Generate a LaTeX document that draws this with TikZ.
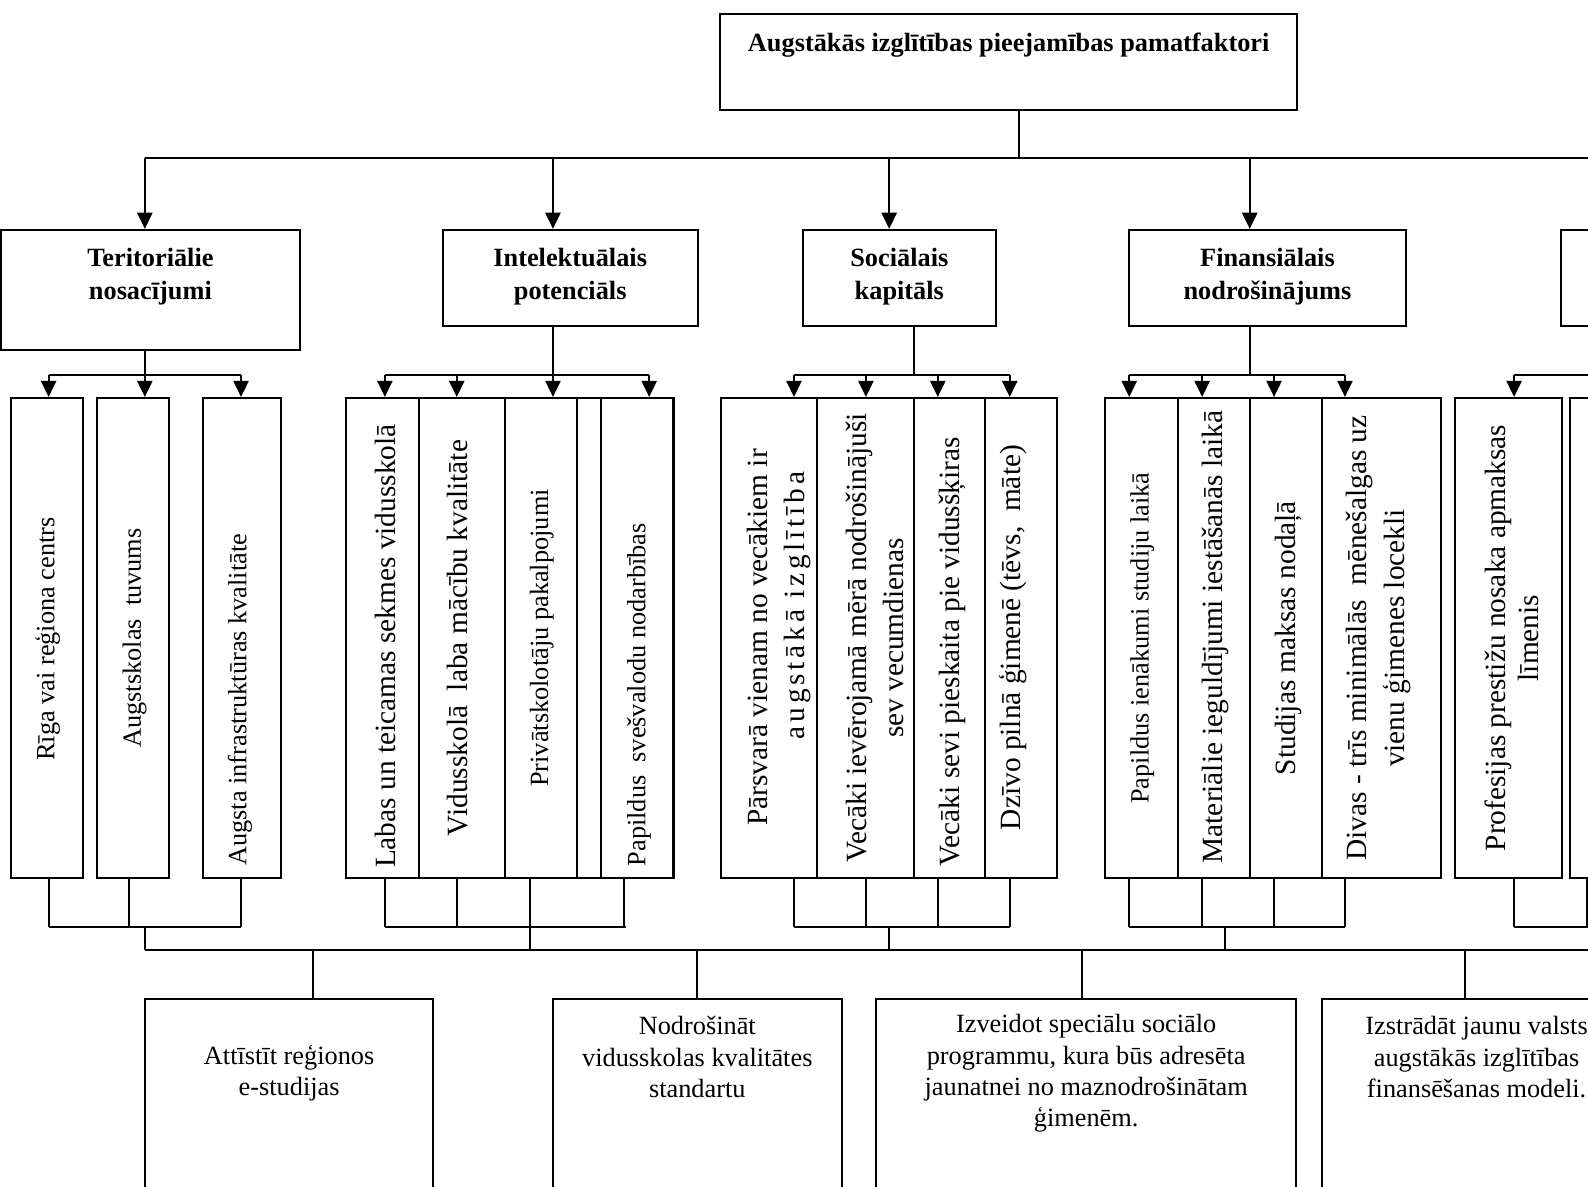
\documentclass[tikz,border=0pt]{standalone}
\usepackage{fontspec}
\setmainfont{Liberation Serif}
\usetikzlibrary{arrows.meta,fit}
\begin{document}
\begin{tikzpicture}[x=0.5pt,y=-0.5pt,
  box/.style={draw,line width=1pt,inner sep=0pt},
  line/.style={line width=1pt},
  arr/.style={line width=1pt,-{Triangle[width=7.5pt,length=8pt]}},
  head/.style={font=\fontsize{13}{16}\selectfont\bfseries,align=center,inner sep=0pt},
  vt/.style={rotate=90,font=\fontsize{13}{18}\selectfont,align=center,inner sep=0pt},
  vtb/.style={rotate=90,font=\fontsize{14.5}{18.5}\selectfont,align=center,inner sep=0pt},
  ht/.style={font=\fontsize{13}{15.5}\selectfont,align=center,inner sep=0pt}]
\useasboundingbox (0,0) rectangle (1568,1172);
\clip (0,0) rectangle (1568,1172);

% ---------- boxes ----------
\node[box, fit={(711,14) (1281,109)}] (top) {};
\node[box, fit={(1,227) (296,346)}] (L1) {};
\node[box, fit={(437,227) (689,322)}] (L2) {};
\node[box, fit={(793,227) (983,322)}] (L3) {};
\node[box, fit={(1115,227) (1388,322)}] (L4) {};
\node[box, fit={(1541,227) (1700,322)}] (L5) {};

\node[box, fit={(11,393) (82,867)}] (t1) {};
\node[box, fit={(96,393) (167,867)}] (t2) {};
\node[box, fit={(200,393) (277,867)}] (t3) {};

\node[box, fit={(342,393) (414,867)}] (i1) {};
\node[box, fit={(414,393) (499,867)}] (i2) {};
\node[box, fit={(499,393) (570,867)}] (i3) {};
\node[box, fit={(570,393) (593,867)}] (i4) {};
\node[box, fit={(593,393) (665,867)}] (i5) {};

\node[box, fit={(712,393) (807,867)}] (s1) {};
\node[box, fit={(807,393) (902,867)}] (s2) {};
\node[box, fit={(902,393) (973,867)}] (s3) {};
\node[box, fit={(973,393) (1044,867)}] (s4) {};

\node[box, fit={(1091,393) (1163,867)}] (f1) {};
\node[box, fit={(1163,393) (1234,867)}] (f2) {};
\node[box, fit={(1234,393) (1305,867)}] (f3) {};
\node[box, fit={(1305,393) (1423,867)}] (f4) {};

\node[box, fit={(1437,393) (1542,867)}] (p1) {};
\node[box, fit={(1550,393) (1700,867)}] (p2) {};

\node[box, fit={(143,986) (428,1200)}] (B1) {};
\node[box, fit={(546,986) (831,1200)}] (B2) {};
\node[box, fit={(865,986) (1280,1200)}] (B3) {};
\node[box, fit={(1305,986) (1700,1200)}] (B4) {};

% ---------- texts ----------
\node[head] (toptx) at (996,45) {Augstākās izglītības pieejamības pamatfaktori};
\node[head] (L1tx) at (148.5,273) {Teritoriālie\\nosacījumi};
\node[head] (L2tx) at (563,273) {Intelektuālais\\potenciāls};
\node[head] (L3tx) at (888,273) {Sociālais\\kapitāls};
\node[head] (L4tx) at (1251.5,273) {Finansiālais\\nodrošinājums};

\node[vt] (t1tx) at (47,631) {Rīga vai reģiona centrs};
\node[vt] (t2tx) at (133,630) {Augstskolas\ \ tuvums};
\node[vt] (t3tx) at (237,691) {Augsta infrastruktūras kvalitāte};

\node[vtb] (i1tx) at (381,638) {Labas un teicamas sekmes vidusskolā};
\node[vtb] (i2tx) at (452,630) {Vidusskolā\ \ laba mācību kvalitāte};
\node[vt] (i3tx) at (535,630) {Privātskolotāju pakalpojumi};
\node[vt] (i5tx) at (631,686) {Papildus\ \ svešvalodu nodarbības};

\node[vtb] (s1tx) at (769,629.5) {Pārsvarā vienam no vecākiem ir\\\hspace*{31.5pt}{\addfontfeatures{LetterSpace=13}augstākā izglītība}};
\node[vtb] (s2tx) at (864,630) {Vecāki ievērojamā mērā nodrošinājuši\\sev vecumdienas};
\node[vtb] (s3tx) at (940,643.5) {Vecāki sevi pieskaita pie vidusšķiras};
\node[vtb] (s4tx) at (1000,629.5) {Dzīvo pilnā ģimenē (tēvs,\ \ māte)};

\node[vt] (f1tx) at (1128,630) {Papildus ienākumi studiju laikā};
\node[vtb] (f2tx) at (1200,629) {Materiālie ieguldījumi iestāšanās laikā};
\node[vtb] (f3tx) at (1272,630) {Studijas maksas nodaļā};
\node[vtb] (f4tx) at (1361,630) {Divas - trīs minimālās\ \ mēnešalgas uz\\vienu ģimenes locekli};
\node[vtb,font=\fontsize{14.5}{16.5}\selectfont] (p1tx) at (1492.5,630) {Profesijas prestižu nosaka apmaksas\\līmenis};

\node[ht] (B1tx) at (285.5,1060) {Attīstīt reģionos\\e-studijas};
\node[ht] (B2tx) at (688.5,1044) {Nodrošināt\\vidusskolas kvalitātes\\standartu};
\node[ht] (B3tx) at (1072.5,1060) {Izveidot speciālu sociālo\\programmu, kura būs adresēta\\jaunatnei no maznodrošinātam\\ģimenēm.};
\node[ht] (B4tx) at (1458,1044) {Izstrādāt jaunu valsts\\augstākās izglītības\\finansēšanas modeli.};

% ---------- top bus ----------
\coordinate (k0) at (1006,156);
\coordinate (kL) at (143,156);
\coordinate (kR) at (1600,156);
\draw[line] (top.south -| k0) -- (k0);
\draw[line] (kL) -- (kR);
\foreach \n/\x in {L1/143,L2/546,L3/878,L4/1234}{
  \coordinate (k\n) at (\x,156);
  \draw[arr] (k\n) -- (k\n |- \n.north);
}

% ---------- level 2 to level 3 ----------
\foreach \g/\x/\a/\b in {L1/143/48/238,L2/546/380/641,L3/902/784/997,L4/1234/1115/1328}{
  \coordinate (m\g) at (\x,370);
  \coordinate (m\g a) at (\a,370);
  \coordinate (m\g b) at (\b,370);
  \draw[line] (m\g |- \g.south) -- (m\g);
  \draw[line] (m\g a) -- (m\g b);
}
\coordinate (mL5a) at (1495,370);
\coordinate (mL5b) at (1600,370);
\draw[line] (mL5a) -- (mL5b);

\foreach \n/\x in {t1/48,t2/143,t3/238,i1/380,i2/451,i3/546,i5/641,
                   s1/784,s2/855,s3/926,s4/997,f1/1115,f2/1187,f3/1258,f4/1328,p1/1495}{
  \coordinate (q\n) at (\x,370);
  \draw[arr] (q\n) -- (q\n |- \n.north);
}

% ---------- level 3 to lower bus ----------
\foreach \n/\x in {t1/48,t2/127,t3/238,i1/380,i2/451,i3/523,i5/616,
                   s1/784,s2/855,s3/926,s4/997,f1/1115,f2/1187,f3/1258,f4/1328,p1/1495,p2/1567}{
  \coordinate (r\n) at (\x,915);
  \draw[line] (r\n |- \n.south) -- (r\n);
}
\foreach \a/\b/\d [count=\c] in {48/238/143,380/618/523,784/997/878,1115/1328/1210}{
  \coordinate (ga\c) at (\a,915);
  \coordinate (gb\c) at (\b,915);
  \coordinate (gd\c) at (\d,915);
  \coordinate (ge\c) at (\d,938);
  \draw[line] (ga\c) -- (gb\c);
  \draw[line] (gd\c) -- (ge\c);
}
\coordinate (ga5) at (1495,915);
\coordinate (gb5) at (1600,915);
\draw[line] (ga5) -- (gb5);

% ---------- main lower bus ----------
\coordinate (hL) at (143,938);
\coordinate (hR) at (1600,938);
\draw[line] (hL) -- (hR);
\foreach \n/\x in {B1/309,B2/688,B3/1068,B4/1447}{
  \coordinate (h\n) at (\x,938);
  \draw[line] (h\n) -- (h\n |- \n.north);
}
\end{tikzpicture}
\end{document}
